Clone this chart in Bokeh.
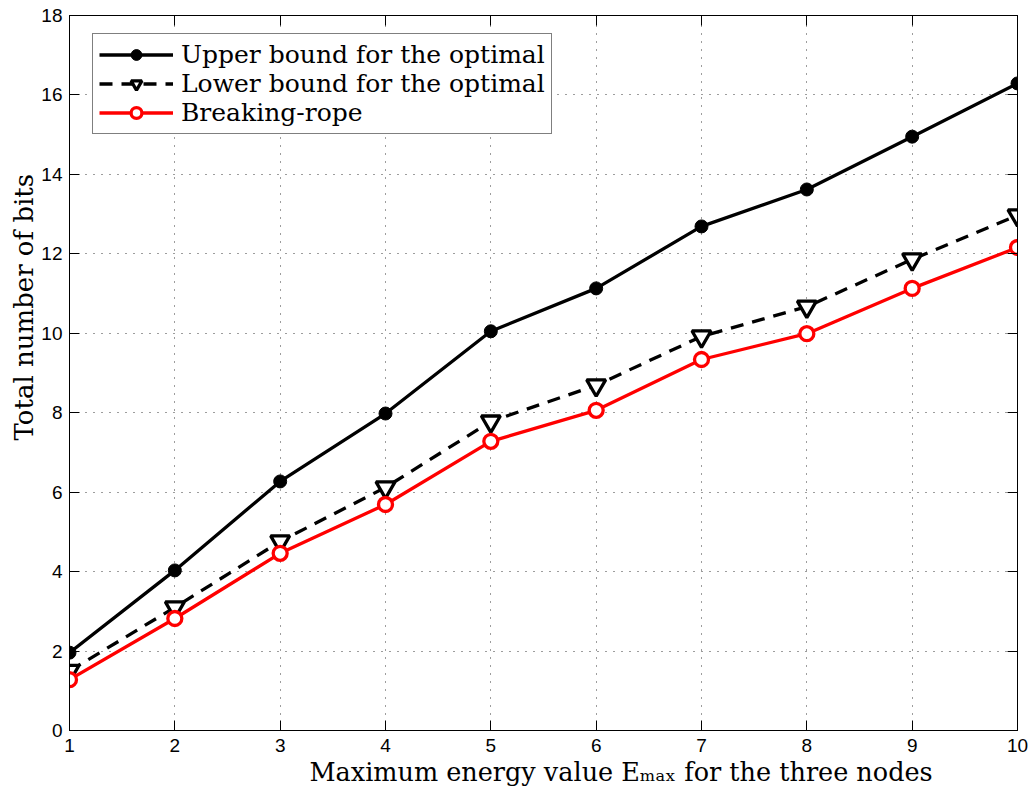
from bokeh.plotting import figure
from bokeh.models import LinearAxis, FixedTicker, Range1d, Title
from bokeh.embed import file_html
from bokeh.resources import INLINE

# ---- data ----
energy = [1, 2, 3, 4, 5, 6, 7, 8, 9, 10]
upper_bound = [1.96, 4.03, 6.27, 7.98, 10.05, 11.13, 12.69, 13.62, 14.95, 16.29]
lower_bound = [1.50, 3.10, 4.76, 6.12, 7.78, 8.69, 9.92, 10.67, 11.86, 12.97]
breaking_rope = [1.28, 2.82, 4.46, 5.69, 7.28, 8.06, 9.34, 9.99, 11.13, 12.16]

x_ticks = [1, 2, 3, 4, 5, 6, 7, 8, 9, 10]
y_ticks = [0, 2, 4, 6, 8, 10, 12, 14, 16, 18]

series_names = ["Upper bound for the optimal", "Lower bound for the optimal", "Breaking-rope"]
y_label_text = "Total number of bits"
x_label_text = "Maximum energy value E\u2098\u2090\u2093 for the three nodes"

SERIF = "DejaVu Serif"
SANS = "Liberation Sans"

p = figure(width=1036, height=795,
           x_range=Range1d(1, 10), y_range=Range1d(0, 18),
           output_backend="svg", toolbar_location=None,
           min_border_left=69, min_border_right=19,
           min_border_top=15, min_border_bottom=65)
p.background_fill_color = "white"
p.border_fill_color = "white"
p.outline_line_color = "black"
p.outline_line_width = 1

xt = FixedTicker(ticks=x_ticks)
yt = FixedTicker(ticks=y_ticks)


def style_axis(ax, ticker, show_labels):
    ax.ticker = ticker
    ax.axis_line_color = "black"
    ax.axis_line_width = 1
    ax.major_tick_in = 10
    ax.major_tick_out = 0
    ax.major_tick_line_color = "black"
    ax.minor_tick_in = 0
    ax.minor_tick_out = 0
    ax.minor_tick_line_color = None
    ax.major_label_text_font = SANS
    ax.major_label_text_color = "black"
    if show_labels:
        ax.major_label_text_font_size = "19px"
    else:
        ax.major_label_overrides = {t: "" for t in ticker.ticks}
        ax.major_label_text_font_size = "1px"
        ax.major_label_standoff = 0


style_axis(p.xaxis[0], xt, True)
p.xaxis[0].major_label_standoff = 8
style_axis(p.yaxis[0], yt, True)
p.yaxis[0].major_label_standoff = 7

top_axis = LinearAxis()
style_axis(top_axis, xt, False)
p.add_layout(top_axis, "above")
right_axis = LinearAxis()
style_axis(right_axis, yt, False)
p.add_layout(right_axis, "right")

p.xgrid[0].ticker = xt
p.ygrid[0].ticker = yt
for g in (p.xgrid[0], p.ygrid[0]):
    g.grid_line_color = "#3a3a3a"
    g.grid_line_width = 1
    g.grid_line_dash = "1 7"

# ---- series ----
p.line(energy, upper_bound, line_color="black", line_width=3.3, legend_label=series_names[0])
p.scatter(energy, upper_bound, marker="circle", size=13, fill_color="black",
          line_color="black", legend_label=series_names[0])

p.line(energy, lower_bound, line_color="black", line_width=3.3, line_dash="13 9",
       legend_label=series_names[1])
p.scatter(energy, lower_bound, marker="inverted_triangle", size=19, fill_color="white",
          line_color="black", line_width=3.3, legend_label=series_names[1])

p.line(energy, breaking_rope, line_color="#ff0000", line_width=3.3, legend_label=series_names[2])
p.scatter(energy, breaking_rope, marker="circle", size=14, fill_color="white",
          line_color="#ff0000", line_width=3.3, legend_label=series_names[2])

lg = p.legend[0]
lg.location = (23, 596)
lg.label_text_font = SERIF
lg.label_text_font_size = "25px"
lg.label_text_color = "black"
lg.glyph_width = 74
lg.glyph_height = 27
lg.label_height = 27
lg.label_standoff = 8
lg.spacing = 0
lg.padding = 6
lg.margin = 0
lg.border_line_color = "black"
lg.border_line_width = 1
lg.background_fill_color = "white"
lg.background_fill_alpha = 1.0

# ---- axis titles ----
p.add_layout(Title(text=x_label_text, align="left", offset=240, standoff=0,
                   text_font=SERIF, text_font_size="25.5px", text_font_style="normal",
                   text_color="black"), "below")
p.add_layout(Title(text=y_label_text, align="left", offset=290, standoff=0,
                   text_font=SERIF, text_font_size="26px", text_font_style="normal",
                   text_color="black"), "left")

open("out.html", "w").write(file_html(p, INLINE))
